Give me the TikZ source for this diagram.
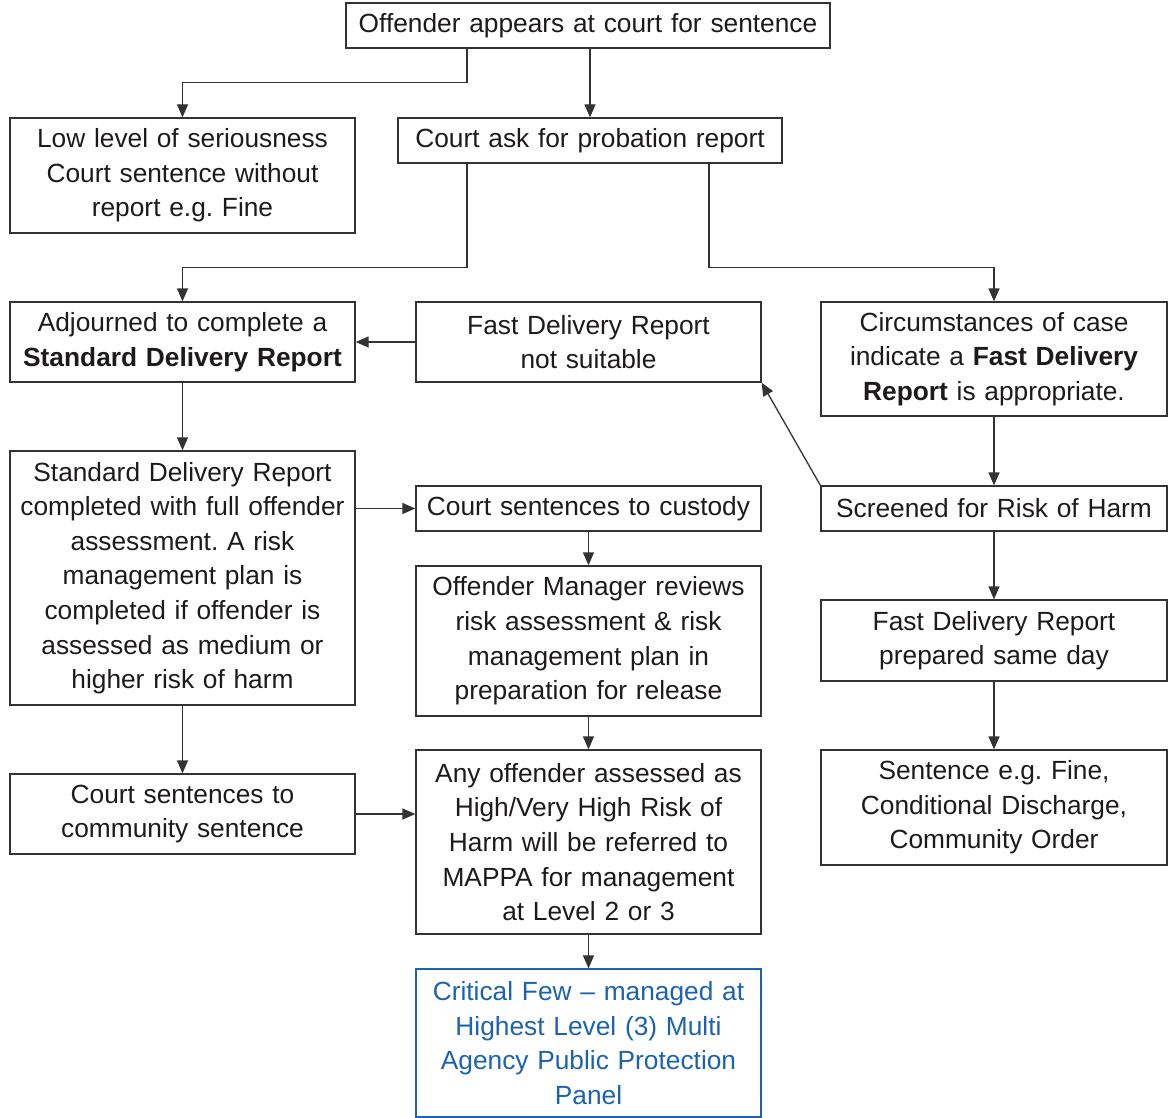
\documentclass[tikz,border=0pt]{standalone}
\usepackage{fontspec}
\setmainfont{Liberation Sans}
\usetikzlibrary{arrows.meta}
\definecolor{txt}{HTML}{1E1A1B}
\definecolor{brd}{HTML}{333333}
\definecolor{blu}{HTML}{1B63AE}
\tikzset{
  bx/.style={draw=brd, line width=1.3pt, rectangle, inner sep=0pt, align=center,
    text=txt, font=\fontsize{26.3}{34.6}\selectfont},
  arr/.style={draw=brd, line width=1.3pt, -{Triangle[length=13pt,width=11pt]}},
}
\frenchspacing
\begin{document}
\begin{tikzpicture}[x=1pt,y=-1pt]
\useasboundingbox (0,0) rectangle (1173,1118);
\node[bx, minimum width=484pt, minimum height=45pt, text width=480pt] (top) at (588,25.5) {Offender appears at court for sentence};
\node[bx, minimum width=345pt, minimum height=115pt, text width=340pt] (low) at (182.5,175.5) {Low level of seriousness\\Court sentence without\\report e.g. Fine};
\node[bx, minimum width=384pt, minimum height=45pt, text width=380pt] (ask) at (590,140.5) {Court ask for probation report};
\node[bx, minimum width=345pt, minimum height=80pt, text width=340pt] (adj) at (182.5,342) {Adjourned to complete a\\\textbf{Standard Delivery Report}};
\node[bx, minimum width=345pt, minimum height=80pt, text width=340pt] (ns) at (588.5,342) {Fast Delivery Report\\not suitable};
\node[bx, minimum width=346pt, minimum height=114pt, text width=341pt] (circ) at (994,359) {Circumstances of case\\indicate a \textbf{Fast Delivery}\\\textbf{Report} is appropriate.};
\node[bx, minimum width=345pt, minimum height=254pt, text width=340pt] (std) at (182.5,578) {Standard Delivery Report\\completed with full offender\\assessment. A risk\\management plan is\\completed if offender is\\assessed as medium or\\higher risk of harm};
\node[bx, minimum width=345pt, minimum height=45pt, text width=340pt] (cust) at (588.5,508.5) {Court sentences to custody};
\node[bx, minimum width=346pt, minimum height=45pt, text width=341pt] (scr) at (994,508.5) {Screened for Risk of Harm};
\node[bx, minimum width=345pt, minimum height=150pt, text width=340pt] (om) at (588.5,641) {Offender Manager reviews\\risk assessment \& risk\\management plan in\\preparation for release};
\node[bx, minimum width=346pt, minimum height=81pt, text width=341pt] (fdr) at (994,640.5) {Fast Delivery Report\\prepared same day};
\node[bx, minimum width=345pt, minimum height=80pt, text width=340pt] (comm) at (182.5,814) {Court sentences to\\community sentence};
\node[bx, minimum width=345pt, minimum height=184pt, text width=340pt] (any) at (588.5,842) {Any offender assessed as\\High/Very High Risk of\\Harm will be referred to\\MAPPA for management\\at Level 2 or 3};
\node[bx, minimum width=346pt, minimum height=115pt, text width=341pt] (sent) at (994,807.5) {Sentence e.g. Fine,\\Conditional Discharge,\\Community Order};
\node[bx, draw=blu, text=blu, minimum width=345pt, minimum height=148pt, text width=340pt] (crit) at (588.5,1043) {Critical Few -- managed at\\Highest Level (3) Multi\\Agency Public Protection\\Panel};

\draw[arr] ([xshift=-121pt]top.south) -- ++(0,34) -| (low.north);
\draw[arr] (top.south -| ask.north) -- (ask.north);
\draw[arr] ([xshift=-123pt]ask.south) -- ++(0,104) -| (adj.north);
\draw[arr] ([xshift=119pt]ask.south) -- ++(0,104) -| (circ.north);
\draw[arr] (ns.west) -- (adj.east);
\draw[arr] (circ.south) -- (scr.north);
\draw[arr] (scr.north west) -- (ns.south east);
\draw[arr] (adj.south) -- (std.north);
\draw[arr] (std.east |- cust.west) -- (cust.west);
\draw[arr] (cust.south) -- (om.north);
\draw[arr] (om.south) -- (any.north);
\draw[arr] (std.south) -- (comm.north);
\draw[arr] (comm.east) -- (any.west |- comm.east);
\draw[arr] (scr.south) -- (fdr.north);
\draw[arr] (fdr.south) -- (sent.north);
\draw[arr] (any.south) -- (crit.north);
\end{tikzpicture}
\end{document}
